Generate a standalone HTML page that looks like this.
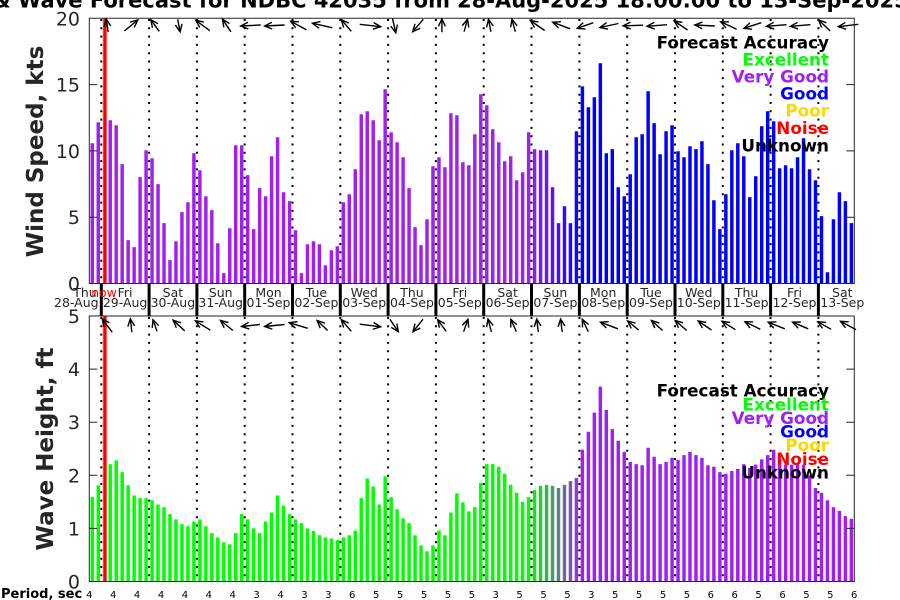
<!DOCTYPE html>
<html><head><meta charset="utf-8"><style>
html,body{margin:0;padding:0;background:#fff;}
svg{display:block;}
text{font-family:"DejaVu Sans","Liberation Sans",sans-serif;}
</style></head><body>
<svg width="900" height="600" viewBox="0 0 900 600" xmlns="http://www.w3.org/2000/svg">
<defs>
<marker id="ah" markerUnits="userSpaceOnUse" markerWidth="18" markerHeight="18" refX="0" refY="0" viewBox="-9 -9 18 18" orient="auto" overflow="visible">
<path d="M-7.5,-3.4L0,0L-7.5,3.4" fill="none" stroke="#000" stroke-width="1.4"/>
</marker>
</defs>
<rect width="900" height="600" fill="#fff"/>

<!-- title -->
<text x="450" y="7.5" text-anchor="end" font-size="21" font-weight="bold">Wind &amp; Wave Forecast for NDBC 42035 from</text>
<text x="457" y="7.5" font-size="21" font-weight="bold">28-Aug-2025 18:00:00 to 13-Sep-2025 18:00:00</text>

<!-- TOP PANEL BARS -->
<g transform="translate(92.29,283.5) scale(5.977,-13.26)">
<path fill="#A020F0" d="M-.29,0v10.58h.58V0zm1,0v12.16h.58V0zm1,0v12.3h.58V0zm1,0v12.31h.58V0zm1,0v11.93h.58V0zm1,0v9h.58V0zm1,0v3.27h.58V0zm1,0v2.74h.58V0zm1,0v8.02h.58V0zm1,0v10.05h.58V0zm1,0v9.45h.58V0zm1,0v7.49h.58V0zm1,0v4.55h.58V0zm1,0v1.76h.58V0zm1,0v3.19h.58V0zm1,0v5.38h.58V0zm1,0v6.13h.58V0zm1,0v9.82h.58V0zm1,0v8.54h.58V0zm1,0v6.58h.58V0zm1,0v5.53h.58V0zm1,0v3.04h.58V0zm1,0v.78h.58V0zm1,0v4.17h.58V0zm1,0v10.43h.58V0zm1,0v10.43h.58V0zm1,0v8.17h.58V0zm1,0v4.1h.58V0zm1,0v7.19h.58V0zm1,0v6.58h.58V0zm1,0v9.6h.58V0zm1,0v11.03h.58V0zm1,0v6.88h.58V0zm1,0v6.21h.58V0zm1,0v4.02h.58V0zm1,0v.78h.58V0zm1,0v2.96h.58V0zm1,0v3.19h.58V0zm1,0v2.96h.58V0zm1,0v1.38h.58V0zm1,0v2.51h.58V0zm1,0v2.81h.58V0zm1,0v6.13h.58V0zm1,0v6.73h.58V0zm1,0v8.62h.58V0zm1,0v12.76h.58V0zm1,0v12.99h.58V0zm1,0v12.31h.58V0zm1,0v10.8h.58V0zm1,0v14.65h.58V0zm1,0v11.41h.58V0zm1,0v10.65h.58V0zm1,0v9.52h.58V0zm1,0v7.19h.58V0zm1,0v4.25h.58V0zm1,0v2.89h.58V0zm1,0v4.85h.58V0zm1,0v8.84h.58V0zm1,0v9.52h.58V0zm1,0v8.77h.58V0zm1,0v12.84h.58V0zm1,0v12.69h.58V0zm1,0v9.15h.58V0zm1,0v8.92h.58V0zm1,0v11.26h.58V0zm1,0v14.27h.58V0zm1,0v13.44h.58V0zm1,0v11.63h.58V0zm1,0v10.65h.58V0zm1,0v9.22h.58V0zm1,0v9.6h.58V0zm1,0v7.79h.58V0zm1,0v8.39h.58V0zm1,0v11.41h.58V0z"/>
<rect x="73.71" width=".58" height="10.13" fill="#8E1CF2"/>
<rect x="74.71" width=".58" height="10.05" fill="#7C19F3"/>
<rect x="75.71" width=".58" height="10.05" fill="#6B15F5"/>
<rect x="76.71" width=".58" height="7.26" fill="#5912F7"/>
<rect x="77.71" width=".58" height="4.55" fill="#470EF8"/>
<rect x="78.71" width=".58" height="5.83" fill="#350BFA"/>
<rect x="79.71" width=".58" height="4.55" fill="#2407FC"/>
<rect x="80.71" width=".58" height="11.48" fill="#1204FD"/>
<path fill="#0000FF" d="M81.71,0v14.87h.58V0zm1,0v13.29h.58V0zm1,0v14.05h.58V0zm1,0v16.61h.58V0zm1,0v9.82h.58V0zm1,0v10.13h.58V0zm1,0v7.26h.58V0zm1,0v6.58h.58V0zm1,0v8.24h.58V0zm1,0v11.03h.58V0zm1,0v11.26h.58V0zm1,0v14.5h.58V0zm1,0v12.09h.58V0zm1,0v9.75h.58V0zm1,0v11.48h.58V0zm1,0v11.93h.58V0zm1,0v9.97h.58V0zm1,0v9.52h.58V0zm1,0v10.35h.58V0zm1,0v10.13h.58V0zm1,0v10.73h.58V0zm1,0v9h.58V0zm1,0v6.28h.58V0zm1,0v4.1h.58V0zm1,0v6.73h.58V0zm1,0v10.05h.58V0zm1,0v10.58h.58V0zm1,0v9.6h.58V0zm1,0v6.51h.58V0zm1,0v8.09h.58V0zm1,0v11.86h.58V0zm1,0v12.99h.58V0zm1,0v12.24h.58V0zm1,0v8.69h.58V0zm1,0v8.92h.58V0zm1,0v8.69h.58V0zm1,0v9.52h.58V0zm1,0v10.95h.58V0zm1,0v8.62h.58V0zm1,0v7.79h.58V0zm1,0v5.08h.58V0zm1,0v.85h.58V0zm1,0v4.85h.58V0zm1,0v6.88h.58V0zm1,0v6.21h.58V0zm1,0v4.55h.58V0z"/>
</g>

<!-- BOTTOM PANEL BARS -->
<g transform="translate(92.29,581.5) scale(5.977,-53.1)">
<path fill="#00FF00" d="M-.29,0v1.59h.58V0zm1,0v1.81h.58V0zm1,0v2h.58V0zm1,0v2.21h.58V0zm1,0v2.28h.58V0zm1,0v2.06h.58V0zm1,0v1.81h.58V0zm1,0v1.62h.58V0zm1,0v1.57h.58V0zm1,0v1.57h.58V0zm1,0v1.53h.58V0zm1,0v1.45h.58V0zm1,0v1.4h.58V0zm1,0v1.27h.58V0zm1,0v1.17h.58V0zm1,0v1.08h.58V0zm1,0v1.04h.58V0zm1,0v1.13h.58V0zm1,0v1.17h.58V0zm1,0v1.04h.58V0zm1,0v.91h.58V0zm1,0v.83h.58V0zm1,0v.74h.58V0zm1,0v.7h.58V0zm1,0v.91h.58V0zm1,0v1.27h.58V0zm1,0v1.17h.58V0zm1,0v1h.58V0zm1,0v.91h.58V0zm1,0v1.13h.58V0zm1,0v1.3h.58V0zm1,0v1.62h.58V0zm1,0v1.43h.58V0zm1,0v1.27h.58V0zm1,0v1.17h.58V0zm1,0v1.1h.58V0zm1,0v1h.58V0zm1,0v.95h.58V0zm1,0v.87h.58V0zm1,0v.83h.58V0zm1,0v.81h.58V0zm1,0v.78h.58V0zm1,0v.83h.58V0zm1,0v.87h.58V0zm1,0v.96h.58V0zm1,0v1.57h.58V0zm1,0v1.94h.58V0zm1,0v1.79h.58V0zm1,0v1.45h.58V0zm1,0v1.98h.58V0zm1,0v1.59h.58V0zm1,0v1.36h.58V0zm1,0v1.19h.58V0zm1,0v1.1h.58V0zm1,0v.87h.58V0zm1,0v.68h.58V0zm1,0v.57h.58V0zm1,0v.68h.58V0zm1,0v.96h.58V0zm1,0v.87h.58V0zm1,0v1.3h.58V0zm1,0v1.66h.58V0zm1,0v1.49h.58V0zm1,0v1.32h.58V0zm1,0v1.4h.58V0zm1,0v1.86h.58V0zm1,0v2.21h.58V0zm1,0v2.21h.58V0zm1,0v2.16h.58V0zm1,0v2.03h.58V0zm1,0v1.82h.58V0zm1,0v1.67h.58V0zm1,0v1.5h.58V0zm1,0v1.59h.58V0z"/>
<rect x="73.71" width=".58" height="1.72" fill="#12E61B"/>
<rect x="74.71" width=".58" height="1.80" fill="#24CD35"/>
<rect x="75.71" width=".58" height="1.82" fill="#35B550"/>
<rect x="76.71" width=".58" height="1.80" fill="#479C6B"/>
<rect x="77.71" width=".58" height="1.76" fill="#598385"/>
<rect x="78.71" width=".58" height="1.82" fill="#6B6AA0"/>
<rect x="79.71" width=".58" height="1.89" fill="#7C52BB"/>
<rect x="80.71" width=".58" height="1.95" fill="#8E39D5"/>
<path fill="#A020F0" d="M81.71,0v2.48h.58V0zm1,0v2.82h.58V0zm1,0v3.18h.58V0zm1,0v3.67h.58V0zm1,0v3.23h.58V0zm1,0v2.87h.58V0zm1,0v2.65h.58V0zm1,0v2.44h.58V0zm1,0v2.25h.58V0zm1,0v2.21h.58V0zm1,0v2.19h.58V0zm1,0v2.52h.58V0zm1,0v2.35h.58V0zm1,0v2.21h.58V0zm1,0v2.25h.58V0zm1,0v2.33h.58V0zm1,0v2.29h.58V0zm1,0v2.38h.58V0zm1,0v2.44h.58V0zm1,0v2.38h.58V0zm1,0v2.33h.58V0zm1,0v2.19h.58V0zm1,0v2.16h.58V0zm1,0v2.06h.58V0zm1,0v2.03h.58V0zm1,0v2.08h.58V0zm1,0v2.12h.58V0zm1,0v2.21h.58V0zm1,0v2.14h.58V0zm1,0v2.2h.58V0zm1,0v2.3h.58V0zm1,0v2.38h.58V0zm1,0v2.48h.58V0zm1,0v2.3h.58V0zm1,0v2.2h.58V0zm1,0v2.2h.58V0zm1,0v2.2h.58V0zm1,0v2.2h.58V0zm1,0v2h.58V0zm1,0v1.76h.58V0zm1,0v1.67h.58V0zm1,0v1.53h.58V0zm1,0v1.4h.58V0zm1,0v1.33h.58V0zm1,0v1.23h.58V0zm1,0v1.18h.58V0z"/>
</g>

<!-- dotted day lines -->
<path fill="none" stroke="#000" stroke-width="2" stroke-dasharray="2 6.3" d="M101.3,19V283M149.1,19V283M196.9,19V283M244.7,19V283M292.5,19V283M340.3,19V283M388.1,19V283M435.9,19V283M483.7,19V283M531.5,19V283M579.4,19V283M627.2,19V283M675,19V283M722.8,19V283M770.6,19V283M818.4,19V283"/>
<path fill="none" stroke="#000" stroke-width="2" stroke-dasharray="2 6.3" d="M101.3,317V581M149.1,317V581M196.9,317V581M244.7,317V581M292.5,317V581M340.3,317V581M388.1,317V581M435.9,317V581M483.7,317V581M531.5,317V581M579.4,317V581M627.2,317V581M675,317V581M722.8,317V581M770.6,317V581M818.4,317V581"/>

<!-- thick separators in label strip -->
<path fill="none" stroke="#000" stroke-width="3" d="M101.3,283.5V316M149.1,283.5V316M196.9,283.5V316M244.7,283.5V316M292.5,283.5V316M340.3,283.5V316M388.1,283.5V316M435.9,283.5V316M483.7,283.5V316M531.5,283.5V316M579.4,283.5V316M627.2,283.5V316M675,283.5V316M722.8,283.5V316M770.6,283.5V316M818.4,283.5V316"/>

<!-- now line -->
<path fill="none" stroke="#ffc4c4" stroke-width="5" d="M104.9,18.3V283.5M104.9,316V581.5"/>
<path fill="none" stroke="#FF0000" stroke-width="3.2" d="M104.9,18.3V283.5M104.9,316V581.5"/>

<!-- axes boxes -->
<g fill="none" stroke="#262626" stroke-width="1">
<path d="M89.3,18.3H854.3V283.5H89.3Z"/>
<path d="M89.3,316H854.3V581.5H89.3Z"/>
<path d="M89.3,84.6h8M89.3,150.9h8M89.3,217.2h8M854.3,84.6h-8M854.3,150.9h-8M854.3,217.2h-8"/>
<path d="M89.3,369.1h8M89.3,422.2h8M89.3,475.3h8M89.3,528.4h8M854.3,369.1h-8M854.3,422.2h-8M854.3,475.3h-8M854.3,528.4h-8"/>
</g>

<!-- y tick labels -->
<g font-size="19" fill="#262626" text-anchor="end">
<text x="80" y="25.3">20</text>
<text x="80" y="91.6">15</text>
<text x="80" y="157.9">10</text>
<text x="80" y="224.2">5</text>
<text x="80" y="290.5">0</text>
<text x="80" y="323">5</text>
<text x="80" y="376.1">4</text>
<text x="80" y="429.2">3</text>
<text x="80" y="482.3">2</text>
<text x="80" y="535.4">1</text>
<text x="80" y="588.5">0</text>
</g>

<!-- axis labels -->
<text transform="translate(43,151.5) rotate(-90)" text-anchor="middle" font-size="23" font-weight="bold" fill="#262626">Wind Speed, kts</text>
<text transform="translate(53,449) rotate(-90)" text-anchor="middle" font-size="23" font-weight="bold" fill="#262626">Wave Height, ft</text>

<!-- day labels -->
<g font-size="12.5" fill="#262626" text-anchor="middle">
<text x="85" y="297">Thu</text><text x="76.3" y="307">28-Aug</text>
<text x="125.1" y="297">Fri</text><text x="125.1" y="307">29-Aug</text>
<text x="172.9" y="297">Sat</text><text x="172.9" y="307">30-Aug</text>
<text x="220.7" y="297">Sun</text><text x="220.7" y="307">31-Aug</text>
<text x="268.5" y="297">Mon</text><text x="268.5" y="307">01-Sep</text>
<text x="316.4" y="297">Tue</text><text x="316.4" y="307">02-Sep</text>
<text x="364.2" y="297">Wed</text><text x="364.2" y="307">03-Sep</text>
<text x="412" y="297">Thu</text><text x="412" y="307">04-Sep</text>
<text x="459.8" y="297">Fri</text><text x="459.8" y="307">05-Sep</text>
<text x="507.6" y="297">Sat</text><text x="507.6" y="307">06-Sep</text>
<text x="555.4" y="297">Sun</text><text x="555.4" y="307">07-Sep</text>
<text x="603.2" y="297">Mon</text><text x="603.2" y="307">08-Sep</text>
<text x="651" y="297">Tue</text><text x="651" y="307">09-Sep</text>
<text x="698.8" y="297">Wed</text><text x="698.8" y="307">10-Sep</text>
<text x="746.6" y="297">Thu</text><text x="746.6" y="307">11-Sep</text>
<text x="794.5" y="297">Fri</text><text x="794.5" y="307">12-Sep</text>
<text x="842.3" y="297">Sat</text><text x="842.3" y="307">13-Sep</text>
</g>
<text x="104" y="297" font-size="12.5" fill="#FF0000" text-anchor="middle">now</text>

<!-- top arrows -->
<g fill="none" stroke="#000" stroke-width="1.4" marker-end="url(#ah)">
<path transform="translate(107.2,25.5)" d="M1,6.5L-1,-6.5"/>
<path transform="translate(131.1,25.5)" d="M-6.7,5.5L6.7,-5.5"/>
<path transform="translate(155,25.5)" d="M4.2,5.8L-4.2,-5.8"/>
<path transform="translate(178.9,25.5)" d="M-1.2,-6.3L1.2,6.3"/>
<path transform="translate(202.8,25.5)" d="M7,5.2L-7,-5.2"/>
<path transform="translate(226.7,25.5)" d="M4.2,6.3L-4.2,-6.3"/>
<path transform="translate(250.7,25.5)" d="M10,-0.5L-10,0.5"/>
<path transform="translate(274.6,25.5)" d="M10,-0.5L-10,0.5"/>
<path transform="translate(298.5,25.5)" d="M7.8,4.2L-7.8,-4.2"/>
<path transform="translate(322.4,25.5)" d="M10,2.3L-10,-2.3"/>
<path transform="translate(346.3,25.5)" d="M5,5.8L-5,-5.8"/>
<path transform="translate(370.2,25.5)" d="M-10.5,-1.2L10.5,1.2"/>
<path transform="translate(394.1,25.5)" d="M-1.7,-7.2L1.7,7.2"/>
<path transform="translate(418,25.5)" d="M5.3,-6.2L-5.3,6.2"/>
<path transform="translate(441.9,25.5)" d="M0,6.7L0,-6.7"/>
<path transform="translate(465.8,25.5)" d="M-1.7,6.2L1.7,-6.2"/>
<path transform="translate(489.7,25.5)" d="M1.2,6.2L-1.2,-6.2"/>
<path transform="translate(513.6,25.5)" d="M1.7,6.2L-1.7,-6.2"/>
<path transform="translate(537.5,25.5)" d="M7.2,5L-7.2,-5"/>
<path transform="translate(561.4,25.5)" d="M8.7,3.3L-8.7,-3.3"/>
<path transform="translate(585.3,25.5)" d="M8,-2.8L-8,2.8"/>
<path transform="translate(609.2,25.5)" d="M9.2,-2L-9.2,2"/>
<path transform="translate(633.1,25.5)" d="M10,-0.3L-10,0.3"/>
<path transform="translate(657,25.5)" d="M10,-0.8L-10,0.8"/>
<path transform="translate(680.9,25.5)" d="M6.7,4.5L-6.7,-4.5"/>
<path transform="translate(704.8,25.5)" d="M10,0.5L-10,-0.5"/>
<path transform="translate(728.7,25.5)" d="M8,3.7L-8,-3.7"/>
<path transform="translate(752.6,25.5)" d="M8.7,-2.8L-8.7,2.8"/>
<path transform="translate(776.5,25.5)" d="M10,-0.8L-10,0.8"/>
<path transform="translate(800.4,25.5)" d="M10,-0.8L-10,0.8"/>
<path transform="translate(824.4,25.5)" d="M5.8,5.5L-5.8,-5.5"/>
<path transform="translate(848.3,25.5)" d="M10,-1.2L-10,1.2"/>
</g>

<!-- bottom arrows -->
<g fill="none" stroke="#000" stroke-width="1.4" marker-end="url(#ah)">
<path transform="translate(107.2,325.5)" d="M5,6.7L-5,-6.7"/>
<path transform="translate(131.1,325.5)" d="M0.8,6.7L-0.8,-6.7"/>
<path transform="translate(155,325.5)" d="M2,5.8L-2,-5.8"/>
<path transform="translate(178.9,325.5)" d="M5.8,5.3L-5.8,-5.3"/>
<path transform="translate(202.8,325.5)" d="M7.5,4.7L-7.5,-4.7"/>
<path transform="translate(226.7,325.5)" d="M6.2,5L-6.2,-5"/>
<path transform="translate(250.7,325.5)" d="M9.2,-1L-9.2,1"/>
<path transform="translate(274.6,325.5)" d="M10,-1L-10,1"/>
<path transform="translate(298.5,325.5)" d="M9.2,2.8L-9.2,-2.8"/>
<path transform="translate(322.4,325.5)" d="M5.3,5L-5.3,-5"/>
<path transform="translate(346.3,325.5)" d="M5,5.8L-5,-5.8"/>
<path transform="translate(370.2,325.5)" d="M-10.5,-1.3L10.5,1.3"/>
<path transform="translate(394.1,325.5)" d="M-4.2,-6.2L4.2,6.2"/>
<path transform="translate(418,325.5)" d="M5,-6.2L-5,6.2"/>
<path transform="translate(441.9,325.5)" d="M4.2,5.8L-4.2,-5.8"/>
<path transform="translate(465.8,325.5)" d="M-2.2,6.2L2.2,-6.2"/>
<path transform="translate(489.7,325.5)" d="M1.7,6.5L-1.7,-6.5"/>
<path transform="translate(513.6,325.5)" d="M2.8,6.2L-2.8,-6.2"/>
<path transform="translate(537.5,325.5)" d="M0.8,6.5L-0.8,-6.5"/>
<path transform="translate(561.4,325.5)" d="M0.8,6.5L-0.8,-6.5"/>
<path transform="translate(585.3,325.5)" d="M3,6.2L-3,-6.2"/>
<path transform="translate(609.2,325.5)" d="M8.7,3.3L-8.7,-3.3"/>
<path transform="translate(633.1,325.5)" d="M5.5,4.5L-5.5,-4.5"/>
<path transform="translate(657,325.5)" d="M5.5,5L-5.5,-5"/>
<path transform="translate(680.9,325.5)" d="M5.8,5L-5.8,-5"/>
<path transform="translate(704.8,325.5)" d="M6.7,4.5L-6.7,-4.5"/>
<path transform="translate(728.7,325.5)" d="M6.7,4.2L-6.7,-4.2"/>
<path transform="translate(752.6,325.5)" d="M7.7,3.8L-7.7,-3.8"/>
<path transform="translate(776.5,325.5)" d="M8.3,3.3L-8.3,-3.3"/>
<path transform="translate(800.4,325.5)" d="M7.8,3.3L-7.8,-3.3"/>
<path transform="translate(824.4,325.5)" d="M6.7,3.8L-6.7,-3.8"/>
<path transform="translate(848.3,325.5)" d="M7.8,4.2L-7.8,-4.2"/>
</g>

<!-- legends -->
<g font-size="16.8" font-weight="bold" text-anchor="end">
<text x="829" y="48.3" fill="#000">Forecast Accuracy</text>
<text x="829" y="65.3" fill="#00FF00">Excellent</text>
<text x="829" y="82.3" fill="#A020F0">Very Good</text>
<text x="829" y="99.3" fill="#0000FF">Good</text>
<text x="829" y="116.6" fill="#FFD700">Poor</text>
<text x="829" y="133.9" fill="#FF0000">Noise</text>
<text x="829" y="151.3" fill="#000">Unknown</text>
</g>
<g font-size="16.8" font-weight="bold" text-anchor="end">
<text x="829" y="396.7" fill="#000">Forecast Accuracy</text>
<text x="829" y="410.3" fill="#00FF00">Excellent</text>
<text x="829" y="423.9" fill="#A020F0">Very Good</text>
<text x="829" y="437.5" fill="#0000FF">Good</text>
<text x="829" y="451.2" fill="#FFD700">Poor</text>
<text x="829" y="464.9" fill="#FF0000">Noise</text>
<text x="829" y="478.6" fill="#000">Unknown</text>
</g>

<!-- period row -->
<text x="1" y="598" font-size="13" font-weight="bold">Period, sec</text>
<g font-size="10" text-anchor="middle" fill="#000">
<text x="89.3" y="598">4</text><text x="113.2" y="598">4</text><text x="137.1" y="598">4</text><text x="161" y="598">4</text>
<text x="184.9" y="598">4</text><text x="208.8" y="598">4</text><text x="232.7" y="598">4</text><text x="256.6" y="598">3</text>
<text x="280.5" y="598">4</text><text x="304.4" y="598">3</text><text x="328.3" y="598">3</text><text x="352.2" y="598">6</text>
<text x="376.2" y="598">5</text><text x="400.1" y="598">5</text><text x="424" y="598">5</text><text x="447.9" y="598">5</text>
<text x="471.8" y="598">5</text><text x="495.7" y="598">3</text><text x="519.6" y="598">5</text><text x="543.5" y="598">5</text>
<text x="567.4" y="598">5</text><text x="591.3" y="598">3</text><text x="615.2" y="598">5</text><text x="639.1" y="598">5</text>
<text x="663" y="598">5</text><text x="686.9" y="598">5</text><text x="710.8" y="598">6</text><text x="734.7" y="598">6</text>
<text x="758.6" y="598">5</text><text x="782.5" y="598">6</text><text x="806.4" y="598">5</text><text x="830.3" y="598">5</text>
<text x="854.2" y="598">6</text>
</g>
</svg>
</body></html>
